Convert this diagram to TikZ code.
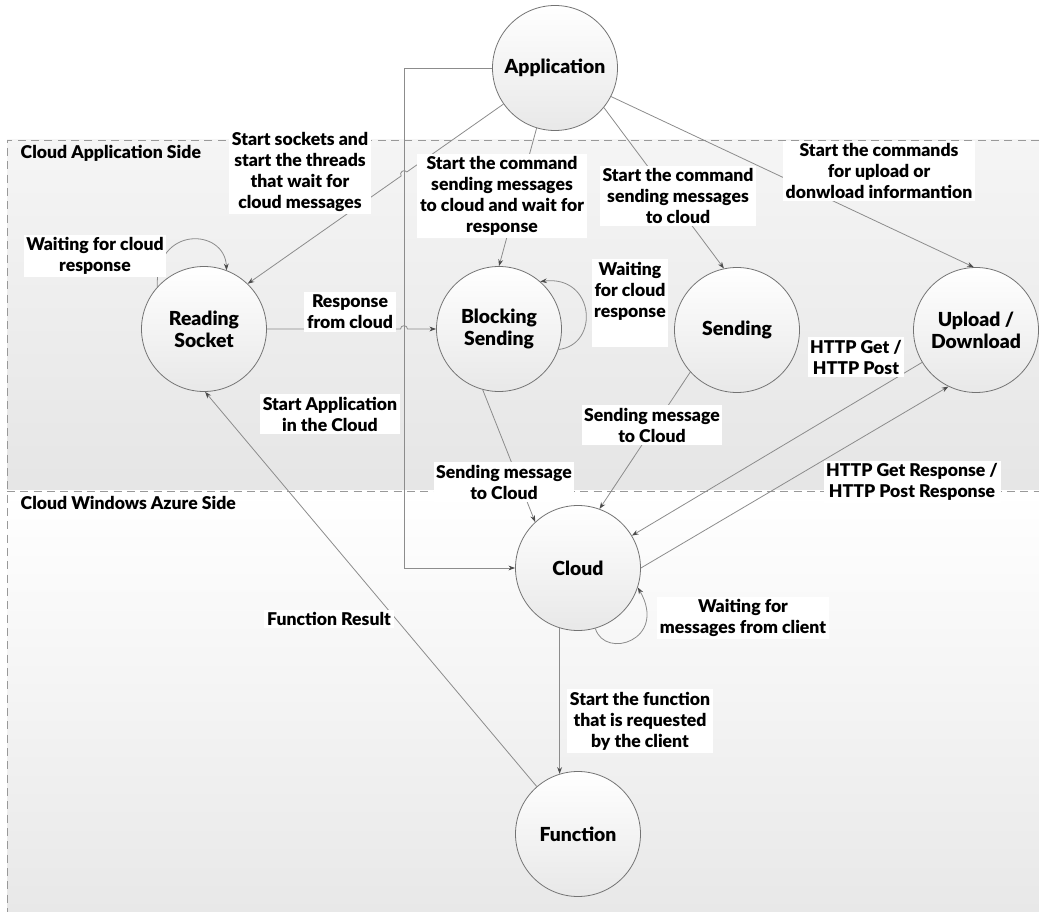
\documentclass[tikz,border=0pt]{standalone}
\usepackage{fontspec}
\setmainfont{Lato}[BoldFont={Lato Black}]
\usetikzlibrary{arrows.meta,calc,intersections}
\begin{document}
\begin{tikzpicture}[x=0.75pt,y=-0.75pt,
  txt/.style={font=\bfseries\fontsize{13.2}{15.75}\selectfont, align=center},
  state/.style={font=\bfseries\fontsize{14.5}{16.5}\selectfont, align=center,
    circle, draw=black!55, line width=0.6pt, top color=white,
    bottom color=black!9, minimum size=93.75pt, inner sep=0pt},
  lbl/.style={txt, fill=white, inner sep=2pt},
  conn/.style={draw=black!45, line width=0.6pt,
    -{Stealth[length=5pt,width=3.6pt,color=black!70]}},
  lane/.style={draw=black!40, line width=0.6pt, dash pattern=on 6pt off 4pt},
]
\useasboundingbox (0,0) rectangle (1039,912);

% swimlanes
\fill[top color=black!4, bottom color=black!10] (7,140) rectangle (1039,491);
\fill[top color=white, bottom color=black!9] (7,491) rectangle (1039,912);
\draw[lane] (1039,140) -- (7,140) -- (7,912);
\draw[lane] (7,491) -- (1039,491);
\node[txt, anchor=west] (lane1) at (16,153) {Cloud Application Side};
\node[txt, anchor=west] (lane2) at (16,503) {Cloud Windows Azure Side};

% states
\node[state] (app)   at (555,68)  {Application};
\node[state] (rs)    at (204,329) {Reading\\Socket};
\node[state] (bs)    at (499,329) {Blocking\\Sending};
\node[state] (snd)   at (737,330) {Sending};
\node[state] (ud)    at (976,330) {Upload /\\Download};
\node[state] (cloud) at (578,568) {Cloud};
\node[state] (fn)    at (578,834) {Function};

% vertical run of the Application -> Cloud connector
\coordinate (vx) at (404,0);
\draw[conn] (app.west) -- (app.west -| vx) |- (cloud.west);

% Application -> Reading Socket, jumping over the vertical run
\path[name path=appRs] (app.215) -- (rs.46);
\path[name path=vline] (app.west -| vx) -- (cloud.west -| vx);
\path[name intersections={of=appRs and vline, by=j1}];
\draw[conn] (app.215) -- ($(j1)!2.6pt!(app.215)$)
  to[out=125,in=125,looseness=1.6] ($(j1)!2.6pt!(rs.46)$) -- (rs.46);

% Reading Socket -> Blocking Sending, jumping over the vertical run
\draw[conn] (rs.east) -- ($(rs.east -| vx)+(-3.5,0)$)
  to[out=90,in=90,looseness=1.6] ($(rs.east -| vx)+(3.5,0)$) -- (bs.west);

\draw[conn] (app.253) -- (bs.90);
\draw[conn] (app.321) -- (snd.102);
\draw[conn] (app.333) -- (ud.92);
\draw[conn] (bs.255) -- (cloud.133);
\draw[conn] (snd.222) -- (cloud.70);
\draw[conn] (ud.211) -- (cloud.31);
\draw[conn] (cloud.0) -- (ud.244);
\draw[conn] (cloud.253) -- (fn.107);
\draw[conn] (fn.131) -- (rs.271);

% self loops
\draw[conn] (rs.138) .. controls (155,225) and (225,228) .. (rs.69);
\draw[conn] (bs.341) .. controls (600,345) and (595,275) .. (bs.49);
\draw[conn] (cloud.286) .. controls (605,660) and (668,640) .. (cloud.342);

% transition labels
\node[lbl] (l1) at (300,172) {Start sockets and\\start the threads\\that wait for\\cloud messages};
\node[lbl] (l2) at (502,196) {Start the command\\sending messages\\to cloud and wait for\\response};
\node[lbl] (l3) at (678,196) {Start the command\\sending messages\\to cloud};
\node[lbl] (l4) at (879,171) {Start the commands\\for upload or\\donwload informantion};
\node[lbl] (l5) at (95,256) {Waiting for cloud\\response};
\node[lbl] (l6) at (350,312) {Response\\from cloud};
\node[lbl, anchor=north] (l7) at (630,259) {Waiting\\for cloud\\response\\\strut};
\node[lbl] (l8) at (504,482) {Sending message\\to Cloud};
\node[lbl] (l9) at (652,425) {Sending message\\to Cloud};
\node[lbl] (l10) at (856,357) {HTTP Get /\\HTTP Post};
\node[lbl] (l11) at (912,482) {HTTP Get Response /\\HTTP Post Response};
\node[lbl] (l12) at (743,618) {Waiting for\\messages from client};
\node[lbl] (l13) at (640,721) {Start the function\\that is requested\\by the client};
\node[lbl] (l14) at (329,619) {Function Result};
\node[lbl] (l15) at (330,414) {Start Application\\in the Cloud};
\end{tikzpicture}
\end{document}
